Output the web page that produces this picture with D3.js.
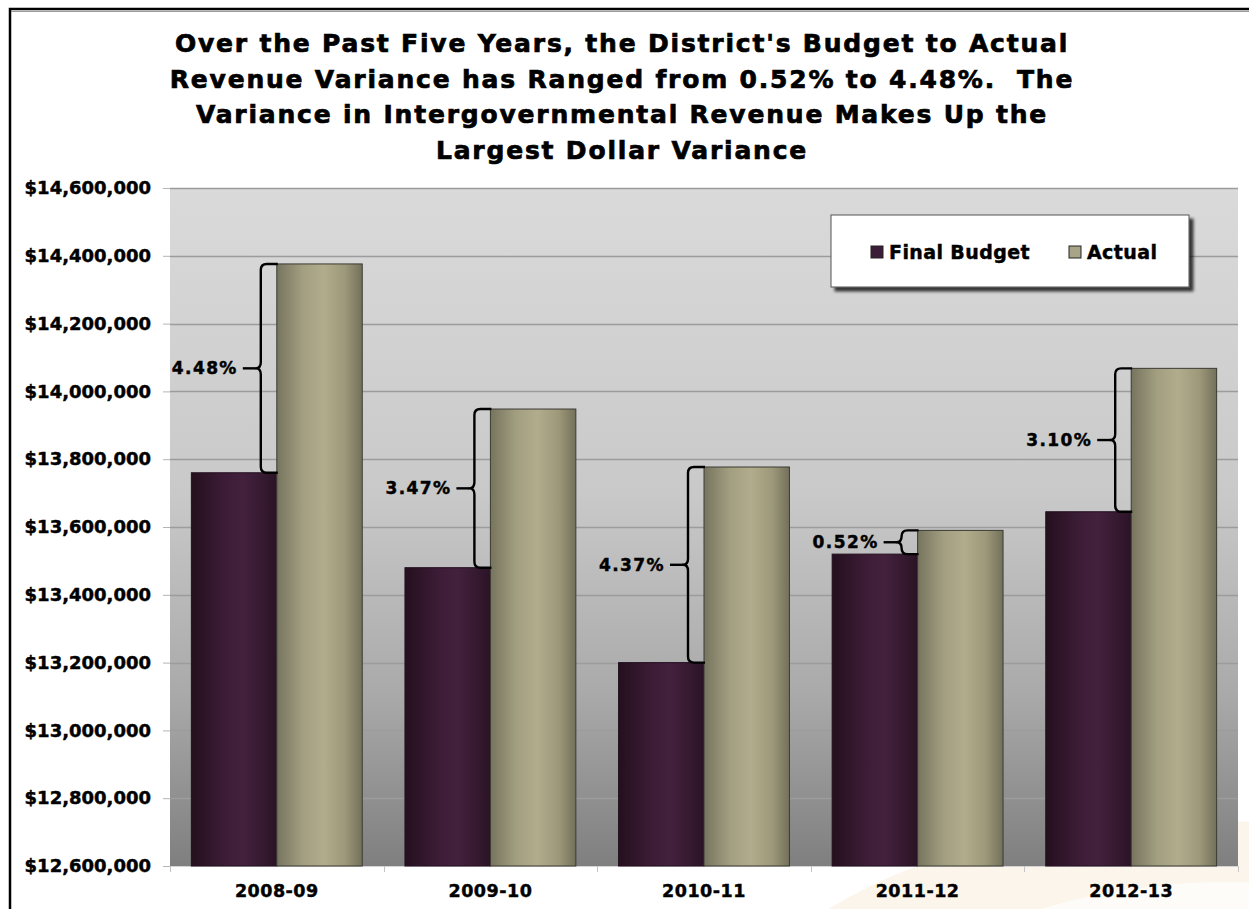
<!DOCTYPE html>
<html>
<head>
<meta charset="utf-8">
<script src="https://cdn.jsdelivr.net/npm/d3@7"></script>
<style>
  html, body { margin: 0; padding: 0; background: #ffffff; }
  svg { display: block; }
  text { font-family: "DejaVu Sans", Verdana, sans-serif; font-weight: bold; fill: #000;
         stroke: #000; stroke-width: 0.45px; paint-order: stroke; white-space: pre; }
</style>
</head>
<body>
<svg id="chart" width="1249" height="909"></svg>
<script>
// ---- data ----
const titleLines = [
  "Over the Past Five Years, the District's Budget to Actual",
  "Revenue Variance has Ranged from 0.52% to 4.48%.  The",
  "Variance in Intergovernmental Revenue Makes Up the",
  "Largest Dollar Variance"
];
const categories = ["2008-09", "2009-10", "2010-11", "2011-12", "2012-13"];
const seriesNames = ["Final Budget", "Actual"];
const finalBudget = [13760000, 13480000, 13200000, 13520000, 13645000];
const actual = [14376000, 13948000, 13777000, 13590000, 14068000];
const yTicks = [12600000, 12800000, 13000000, 13200000, 13400000, 13600000,
                13800000, 14000000, 14200000, 14400000, 14600000];

// ---- layout ----
const W = 1249, H = 909;
const plot = { left: 170, right: 1238, top: 188, bottom: 866 };

const svg = d3.select("#chart");
const defs = svg.append("defs");

// plot-area background gradient (light grey fading to darker grey)
const bgGrad = defs.append("linearGradient").attr("id", "plotBg")
  .attr("x1", 0).attr("y1", 0).attr("x2", 0).attr("y2", 1);
[[0, "#dadada"], [0.45, "#c9c9c9"], [0.75, "#a9a9a9"], [1, "#7f7f7f"]]
  .forEach(([o, c]) => bgGrad.append("stop").attr("offset", o).attr("stop-color", c));

// cylinder-like shading for the two series
const shading = {
  "Final Budget": [[0, "#24101e"], [0.35, "#3a1b34"], [0.6, "#43213d"], [0.85, "#35192f"], [1, "#2a1326"]],
  "Actual": [[0, "#77745f"], [0.3, "#a29e80"], [0.55, "#b1ac8c"], [0.8, "#9d9879"], [1, "#73705b"]]
};
seriesNames.forEach((s, i) => {
  const g = defs.append("linearGradient").attr("id", "bar" + i)
    .attr("x1", 0).attr("y1", 0).attr("x2", 1).attr("y2", 0);
  shading[s].forEach(([o, c]) => g.append("stop").attr("offset", o).attr("stop-color", c));
});
const swatch = { "Final Budget": "#3d1c37", "Actual": "#a8a487" };

// legend drop shadow
const sh = defs.append("filter").attr("id", "shadow")
  .attr("x", "-10%").attr("y", "-20%").attr("width", "130%").attr("height", "160%");
sh.append("feDropShadow").attr("dx", 4).attr("dy", 4).attr("stdDeviation", 1.6)
  .attr("flood-color", "#000").attr("flood-opacity", 0.75);

// faint decorative arcs in the lower right of the slide background
const deco = svg.append("g");
deco.append("ellipse").attr("cx", 1190).attr("cy", 1080).attr("rx", 480).attr("ry", 260)
  .attr("fill", "#fbf2e6").attr("opacity", 0.8);
deco.append("ellipse").attr("cx", 1230).attr("cy", 1110).attr("rx", 400).attr("ry", 228)
  .attr("fill", "#ffffff").attr("opacity", 0.7);
deco.append("ellipse").attr("cx", 1270).attr("cy", 1120).attr("rx", 310).attr("ry", 205)
  .attr("fill", "#fbf0e2").attr("opacity", 0.8);

// outer frame (left and top edges of the slide box)
svg.append("path")
  .attr("d", `M10,${H} V9 H${W}`)
  .attr("fill", "none").attr("stroke", "#000").attr("stroke-width", 2.5);
svg.append("line").attr("x1", 11).attr("x2", W).attr("y1", 11.5).attr("y2", 11.5)
  .attr("stroke", "#9a9a9a").attr("stroke-width", 1);

// ---- title ----
svg.append("g").selectAll("text").data(titleLines).join("text")
  .attr("x", 622).attr("y", (d, i) => 52 + i * 35.5)
  .attr("text-anchor", "middle")
  .style("font-size", "25px").style("letter-spacing", "1.8px")
  .style("stroke-width", "0.7px")
  .text(d => d);

// ---- scales ----
const y = d3.scaleLinear().domain([12600000, 14600000]).range([plot.bottom, plot.top]);
const x = d3.scaleBand().domain(categories).range([plot.left, plot.right])
  .paddingInner(0.2).paddingOuter(0.1);
const xs = d3.scaleBand().domain(seriesNames).range([0, x.bandwidth()]);

// plot background
svg.append("rect")
  .attr("x", plot.left).attr("y", plot.top)
  .attr("width", plot.right - plot.left).attr("height", plot.bottom - plot.top)
  .attr("fill", "url(#plotBg)");

// gridlines
svg.append("g").selectAll("line").data(yTicks.slice(1)).join("line")
  .attr("x1", plot.left).attr("x2", plot.right)
  .attr("y1", d => Math.round(y(d)) + 0.5).attr("y2", d => Math.round(y(d)) + 0.5)
  .attr("stroke", "#9c9c9c").attr("stroke-width", 1.3);

// y axis
const yAxis = svg.append("g").attr("transform", `translate(${plot.left},0)`)
  .call(d3.axisLeft(y).tickValues(yTicks).tickSize(7).tickPadding(12)
    .tickFormat(d => "$" + d3.format(",")(d)));
yAxis.select(".domain").remove();
yAxis.selectAll(".tick line").attr("stroke", "#b5b5b5");
yAxis.selectAll(".tick text").style("font-size", "18px")
  .style("font-family", "'DejaVu Sans', Verdana, sans-serif").attr("fill", "#000");

// x axis: category labels plus boundary ticks
const xAxis = svg.append("g").attr("transform", `translate(0,${plot.bottom})`)
  .call(d3.axisBottom(x).tickSize(0).tickPadding(19));
xAxis.select(".domain").remove();
xAxis.selectAll(".tick text").style("font-size", "17.5px").style("letter-spacing", "0.5px")
  .style("font-family", "'DejaVu Sans', Verdana, sans-serif").attr("fill", "#000");
svg.append("line").attr("x1", plot.left).attr("x2", plot.right)
  .attr("y1", plot.bottom + 0.5).attr("y2", plot.bottom + 0.5)
  .attr("stroke", "#d4d4d4");
const bounds = categories.map(c => x(c) - x.step() * x.paddingInner() / 2)
  .concat([plot.right]);
svg.append("g").selectAll("line").data(bounds).join("line")
  .attr("x1", d => Math.round(d) + 0.5).attr("x2", d => Math.round(d) + 0.5)
  .attr("y1", plot.bottom).attr("y2", plot.bottom + 6)
  .attr("stroke", "#c4c4c4");

// ---- bars ----
const rows = categories.map((c, i) => ({ cat: c, values: [finalBudget[i], actual[i]] }));
const groups = svg.append("g").selectAll("g").data(rows).join("g")
  .attr("transform", d => `translate(${x(d.cat)},0)`);
groups.selectAll("rect")
  .data(d => d.values.map((v, k) => ({ series: seriesNames[k], k, v })))
  .join("rect")
  .attr("x", d => xs(d.series))
  .attr("y", d => y(d.v))
  .attr("width", xs.bandwidth())
  .attr("height", d => plot.bottom - y(d.v))
  .attr("fill", d => `url(#bar${d.k})`)
  .attr("stroke", d => d.k === 1 ? "#3b3a33" : "#241020")
  .attr("stroke-width", 1);

// ---- variance braces ----
const brace = svg.append("g");
categories.forEach((c, i) => {
  const xA = x(c) + xs("Actual");
  const yT = y(actual[i]), yB = y(finalBudget[i]);
  const xB = xA - 16;
  const h = yB - yT;
  const r = Math.min(6, h / 4);
  const yM = (yT + yB) / 2;
  const n = 5; // depth of the centre point
  const d = `M${xA + 1},${yT} H${xB + r} Q${xB},${yT} ${xB},${yT + r}` +
    ` V${yM - r} Q${xB},${yM} ${xB - n},${yM} Q${xB},${yM} ${xB},${yM + r}` +
    ` V${yB - r} Q${xB},${yB} ${xB + r},${yB} H${xA + 1}`;
  brace.append("path").attr("d", d)
    .attr("fill", "none").attr("stroke", "#000").attr("stroke-width", 2.4)
    .attr("stroke-linejoin", "round");
  brace.append("line")
    .attr("x1", xB - n).attr("x2", xB - n - 13).attr("y1", yM).attr("y2", yM)
    .attr("stroke", "#000").attr("stroke-width", 2.4);
  const pct = (actual[i] - finalBudget[i]) / finalBudget[i] * 100;
  brace.append("text")
    .attr("x", xB - n - 18).attr("y", yM).attr("dy", "0.36em")
    .attr("text-anchor", "end")
    .style("font-size", "17px").style("letter-spacing", "1.4px")
    .text(pct.toFixed(2) + "%");
});

// ---- legend ----
const lg = svg.append("g").attr("transform", "translate(831,215)");
lg.append("rect").attr("width", 358).attr("height", 72)
  .attr("fill", "#fff").attr("stroke", "#555").attr("stroke-width", 1)
  .attr("filter", "url(#shadow)");
const legendX = [40, 238];
const items = lg.selectAll("g").data(seriesNames).join("g")
  .attr("transform", (d, i) => `translate(${legendX[i]},31)`);
items.append("rect").attr("width", 12).attr("height", 12)
  .attr("fill", d => swatch[d]).attr("stroke", "#222").attr("stroke-width", 1);
items.append("text").attr("x", 18).attr("y", 12.5)
  .style("font-size", "19px").style("letter-spacing", "0.4px").text(d => d);
</script>
</body>
</html>
